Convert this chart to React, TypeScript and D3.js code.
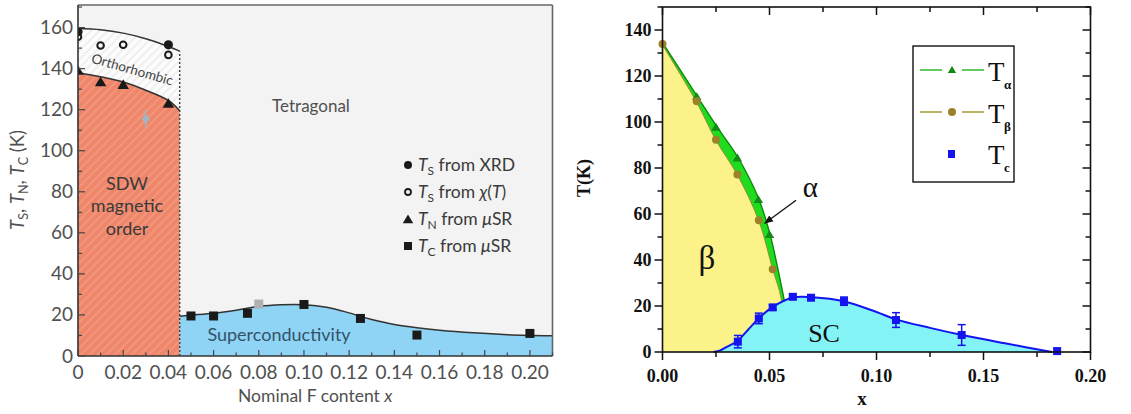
import React from "react";
import * as d3 from "d3";

// ---------- Left panel: phase diagram vs nominal F content ----------
const leftXTicks = [0, 0.02, 0.04, 0.06, 0.08, 0.1, 0.12, 0.14, 0.16, 0.18, 0.2];
const leftXTickLabels = ["0", "0.02", "0.04", "0.06", "0.08", "0.10", "0.12", "0.14", "0.16", "0.18", "0.20"];
const leftYTicks = [0, 20, 40, 60, 80, 100, 120, 140, 160];

// measured transition temperatures
const tsXrdX = [0, 0.04];
const tsXrdY = [158, 151.6];
const tsChiX = [0, 0.01, 0.02, 0.04];
const tsChiY = [155.5, 151.3, 151.6, 146.7];
const tnX = [0, 0.01, 0.02, 0.04];
const tnY = [139, 133.4, 132.1, 122.9];
const tcX = [0.05, 0.06, 0.075, 0.1, 0.125, 0.15, 0.2];
const tcY = [19.5, 19.5, 20.8, 25.1, 18.3, 10.2, 11.0];
const tcGreyX = [0.08];
const tcGreyY = [25.3];
const extraX = [0.03];
const extraY = [115.5];
const extraErr = [4.3];

// guide lines bounding the phases
const tsLineX = [0, 0.01, 0.02, 0.03, 0.04, 0.045];
const tsLineY = [159.5, 158.9, 157.3, 154.6, 150.8, 148.5];
const tnLineX = [0, 0.01, 0.02, 0.03, 0.04, 0.045];
const tnLineY = [138, 136, 133.5, 129.5, 124.5, 119.5];
const scLineX = [0.045, 0.05, 0.06, 0.07, 0.08, 0.09, 0.1, 0.11, 0.12, 0.125, 0.13, 0.14, 0.15, 0.16, 0.175, 0.19, 0.21];
const scLineY = [19.4, 19.9, 20.8, 22.3, 24.2, 25, 25, 23.8, 21, 19.3, 17.8, 15.4, 13.8, 12.6, 11.3, 10.4, 9.9];
const sdwEdge = 0.045;

// ---------- Right panel: T(K) vs x ----------
const rightXTicks = [0, 0.05, 0.1, 0.15, 0.2];
const rightXTickLabels = ["0.00", "0.05", "0.10", "0.15", "0.20"];
const rightYTicks = [0, 20, 40, 60, 80, 100, 120, 140];

const alphaX = [0.016, 0.025, 0.035, 0.0448, 0.05];
const alphaY = [111, 97.7, 84.3, 66.2, 51];
const betaX = [0, 0.016, 0.025, 0.035, 0.045, 0.0515];
const betaY = [133.9, 109, 92.3, 77.2, 57.3, 36];
const scX = [0.0352, 0.045, 0.0515, 0.0609, 0.0694, 0.0848, 0.1091, 0.1398, 0.1844];
const scY = [4.5, 14.6, 19.4, 24, 23.6, 22.1, 13.9, 7.4, 0.4];
const scErr = [2.7, 2.3, 1, 1, 0.8, 1.8, 3.2, 4.5, 0];

// phase boundaries of the alpha band and the SC dome
const alphaEdgeX = [0, 0.016, 0.025, 0.035, 0.0448, 0.05, 0.0535, 0.057];
const alphaEdgeY = [134.5, 111.5, 98.5, 85, 67, 52, 38, 22];
const betaEdgeX = [0, 0.016, 0.025, 0.035, 0.045, 0.0515, 0.0545, 0.0557];
const betaEdgeY = [133.5, 108.5, 92, 77, 57, 36, 27, 22];
const domeX = [0.0238, 0.027, 0.03, 0.035, 0.04, 0.045, 0.0515, 0.061, 0.07, 0.085, 0.1, 0.109, 0.125, 0.14, 0.16, 0.182];
const domeY = [0, 0.7, 2.2, 4.8, 9.7, 14.6, 19.6, 23.7, 23.8, 22, 17.4, 14.2, 10.5, 7.4, 3.8, 0];
const alphaArrowX = [0.0624, 0.0478];
const alphaArrowY = [66, 56];

const zip = (xs: number[], ys: number[]) => xs.map((x, i) => [x, ys[i]] as [number, number]);

export default function App() {
  // scales
  const xL = d3.scaleLinear().domain([0, 0.21]).range([78, 552.5]);
  const yL = d3.scaleLinear().domain([0, 171]).range([356, 5]);
  const xR = d3.scaleLinear().domain([0, 0.2]).range([662.5, 1090.5]);
  const yR = d3.scaleLinear().domain([0, 150]).range([352, 7]);

  const lineL = d3.line<[number, number]>().x((d) => xL(d[0])).y((d) => yL(d[1])).curve(d3.curveCatmullRom);
  const lineR = d3.line<[number, number]>().x((d) => xR(d[0])).y((d) => yR(d[1])).curve(d3.curveCatmullRom);

  const tsPts = zip(tsLineX, tsLineY);
  const tnPts = zip(tnLineX, tnLineY);
  const scPts = zip(scLineX, scLineY);

  const tsPath = lineL(tsPts) as string;
  const tnPath = lineL(tnPts) as string;
  const scPath = lineL(scPts) as string;

  const sdwArea = `M${xL(0)},${yL(0)}L${tnPath.slice(1)}L${xL(sdwEdge)},${yL(0)}Z`;
  const tnRev = lineL([...tnPts].reverse()) as string;
  const orthoArea = `${tsPath}L${tnRev.slice(1)}Z`;
  const scArea = `M${xL(scLineX[0])},${yL(0)}L${scPath.slice(1)}L${xL(0.21)},${yL(0)}Z`;

  const lFont = "Lato, 'Open Sans', sans-serif";
  const lText = "#505050";

  // right panel shapes
  const alphaPts = zip(alphaEdgeX, alphaEdgeY);
  const betaPts = zip(betaEdgeX, betaEdgeY);
  const alphaPath = lineR(alphaPts) as string;
  const betaPath = lineR(betaPts) as string;
  const betaRev = lineR([...betaPts].reverse()) as string;
  const bandArea = `${alphaPath}L${betaRev.slice(1)}Z`;
  const lastB = betaPts[betaPts.length - 1];
  const yellowArea = `M${xR(0)},${yR(0)}L${betaPath.slice(1)}L${xR(lastB[0])},${yR(0)}Z`;
  const domePts = zip(domeX, domeY);
  const domePath = lineR(domePts) as string;
  const cyanArea = `${domePath}Z`;

  const rFont = "'Liberation Serif', 'Times New Roman', serif";

  const leftMinorX = d3.range(0, 0.2101, 0.01);
  const leftMinorY = d3.range(0, 171, 10);
  const rightMinorX = d3.range(0, 0.2001, 0.025);
  const rightMinorY = d3.range(0, 151, 10);

  const tri = (cx: number, cy: number, s: number) =>
    `M${cx},${cy - s}L${cx + s * 1.05},${cy + s * 0.75}L${cx - s * 1.05},${cy + s * 0.75}Z`;

  return (
    <svg width={1131} height={414} style={{ position: "absolute", left: 0, top: 0, background: "#fff" }}>
      <defs>
        <pattern id="hatchSdw" width={6} height={6} patternUnits="userSpaceOnUse" patternTransform="rotate(45)">
          <rect width={6} height={6} fill="#ef866a" />
          <line x1={2} y1={0} x2={2} y2={6} stroke="#f29a80" strokeWidth={1.6} />
        </pattern>
        <pattern id="hatchOrtho" width={6} height={6} patternUnits="userSpaceOnUse" patternTransform="rotate(45)">
          <rect width={6} height={6} fill="#fcfcfc" />
          <line x1={2} y1={0} x2={2} y2={6} stroke="#e2e2e2" strokeWidth={1} />
        </pattern>
        <clipPath id="clipL">
          <rect x={xL(0)} y={yL(171)} width={xL(0.21) - xL(0)} height={yL(0) - yL(171)} />
        </clipPath>
        <marker id="arrowHead" viewBox="0 0 10 10" refX={9} refY={5} markerWidth={7} markerHeight={7} orient="auto">
          <path d="M0,1L10,5L0,9Z" fill="#111" />
        </marker>
      </defs>

      {/* ---------------- left panel ---------------- */}
      <rect x={xL(0)} y={yL(171)} width={xL(0.21) - xL(0)} height={yL(0) - yL(171)} fill="#f3f3f3" />
      <g clipPath="url(#clipL)">
        <path d={sdwArea} fill="url(#hatchSdw)" />
        <path d={orthoArea} fill="url(#hatchOrtho)" />
        <path d={scArea} fill="#8fd4f4" />
        <path d={tsPath} fill="none" stroke="#333" strokeWidth={1.5} />
        <path d={tnPath} fill="none" stroke="#333" strokeWidth={1.5} />
        <path d={scPath} fill="none" stroke="#333" strokeWidth={1.5} />
        <line x1={xL(sdwEdge)} x2={xL(sdwEdge)} y1={yL(0)} y2={yL(148.5)} stroke="#444" strokeWidth={1.5} strokeDasharray="2,2" />

        {/* extra data point with error bar */}
        {extraX.map((x, i) => (
          <g key={`ex${i}`}>
            <line x1={xL(x)} x2={xL(x)} y1={yL(extraY[i] - extraErr[i])} y2={yL(extraY[i] + extraErr[i])} stroke="#9fb5c4" strokeWidth={1.5} />
            <path d={`M${xL(x)},${yL(extraY[i]) - 5}L${xL(x) + 4},${yL(extraY[i])}L${xL(x)},${yL(extraY[i]) + 5}L${xL(x) - 4},${yL(extraY[i])}Z`} fill="#9fb8c8" />
          </g>
        ))}
        {tnX.map((x, i) => (
          <path key={`tn${i}`} d={tri(xL(x), yL(tnY[i]), 5.5)} fill="#1a1a1a" />
        ))}
        {tsChiX.map((x, i) => (
          <circle key={`chi${i}`} cx={xL(x)} cy={yL(tsChiY[i])} r={3.3} fill="none" stroke="#1a1a1a" strokeWidth={2} />
        ))}
        {tsXrdX.map((x, i) => (
          <circle key={`xrd${i}`} cx={xL(x)} cy={yL(tsXrdY[i])} r={4.6} fill="#1a1a1a" />
        ))}
        {tcX.map((x, i) => (
          <rect key={`tc${i}`} x={xL(x) - 4.5} y={yL(tcY[i]) - 4.5} width={9} height={9} fill="#1a1a1a" />
        ))}
        {tcGreyX.map((x, i) => (
          <rect key={`tcg${i}`} x={xL(x) - 4.5} y={yL(tcGreyY[i]) - 4.5} width={9} height={9} fill="#b0b0b0" />
        ))}
      </g>

      {/* left frame */}
      <line x1={xL(0)} x2={xL(0.21)} y1={yL(171)} y2={yL(171)} stroke="#666" strokeWidth={1.6} />
      <line x1={xL(0.21)} x2={xL(0.21)} y1={yL(171)} y2={yL(0)} stroke="#666" strokeWidth={1.6} />
      <line x1={xL(0)} x2={xL(0)} y1={yL(171)} y2={yL(0)} stroke="#333" strokeWidth={1.6} />
      <line x1={xL(0)} x2={xL(0.21)} y1={yL(0)} y2={yL(0)} stroke="#333" strokeWidth={1.6} />
      {leftMinorX.map((t, i) => (
        <line key={`lxt${i}`} x1={xL(t)} x2={xL(t)} y1={yL(0)} y2={yL(0) - (i % 2 === 0 ? 6 : 3.5)} stroke="#444" strokeWidth={1.2} />
      ))}
      {leftMinorY.map((t, i) => (
        <line key={`lyt${i}`} x1={xL(0)} x2={xL(0) + (i % 2 === 0 ? 7 : 4)} y1={yL(t)} y2={yL(t)} stroke="#444" strokeWidth={1.2} />
      ))}
      {leftXTicks.map((t, i) => (
        <text key={`lxl${i}`} x={xL(t)} y={yL(0) + 23} textAnchor="middle" fontFamily={lFont} fontSize={19} fill={lText}>
          {leftXTickLabels[i]}
        </text>
      ))}
      {leftYTicks.map((t) => (
        <text key={`lyl${t}`} x={xL(0) - 5} y={yL(t) + 6.5} textAnchor="end" fontFamily={lFont} fontSize={19} fill={lText}>
          {t}
        </text>
      ))}
      <text x={(xL(0) + xL(0.21)) / 2} y={402} textAnchor="middle" fontFamily={lFont} fontSize={17.5} fill={lText}>
        Nominal F content <tspan fontStyle="italic">x</tspan>
      </text>
      <text transform="translate(24,180) rotate(-90)" textAnchor="middle" fontFamily={lFont} fontSize={18.5} fill={lText}>
        <tspan fontStyle="italic">T</tspan>
        <tspan fontSize={12.5} dy={3.5}>S</tspan>
        <tspan dy={-3.5}>, </tspan>
        <tspan fontStyle="italic">T</tspan>
        <tspan fontSize={12.5} dy={3.5}>N</tspan>
        <tspan dy={-3.5}>, </tspan>
        <tspan fontStyle="italic">T</tspan>
        <tspan fontSize={12.5} dy={3.5}>C</tspan>
        <tspan dy={-3.5}> (K)</tspan>
      </text>

      {/* phase labels */}
      <text x={311} y={112} textAnchor="middle" fontFamily={lFont} fontSize={17} fill={lText}>Tetragonal</text>
      <text transform="translate(131,74) rotate(16)" textAnchor="middle" fontFamily={lFont} fontSize={13.5} fill="#444">Orthorhombic</text>
      <g fontFamily={lFont} fontSize={18} fill="#3a3a3a" textAnchor="middle">
        <text x={127} y={190}>SDW</text>
        <text x={127} y={212}>magnetic</text>
        <text x={127} y={235}>order</text>
      </g>
      <text x={279} y={341} textAnchor="middle" fontFamily={lFont} fontSize={18} fill="#33536b">Superconductivity</text>

      {/* left legend */}
      <g fontFamily={lFont} fontSize={17.5} fill="#3a3a3a">
        <circle cx={408} cy={165} r={4} fill="#1a1a1a" />
        <text x={418} y={171}>
          <tspan fontStyle="italic">T</tspan><tspan fontSize={12} dy={4}>S</tspan><tspan dy={-4}> from XRD</tspan>
        </text>
        <circle cx={408} cy={192} r={3} fill="none" stroke="#1a1a1a" strokeWidth={1.8} />
        <text x={418} y={198}>
          <tspan fontStyle="italic">T</tspan><tspan fontSize={12} dy={4}>S</tspan><tspan dy={-4}> from </tspan><tspan fontStyle="italic">χ</tspan><tspan>(</tspan><tspan fontStyle="italic">T</tspan><tspan>)</tspan>
        </text>
        <path d={tri(408, 219.5, 5)} fill="#1a1a1a" />
        <text x={418} y={225}>
          <tspan fontStyle="italic">T</tspan><tspan fontSize={12} dy={4}>N</tspan><tspan dy={-4}> from </tspan><tspan fontStyle="italic">μ</tspan><tspan>SR</tspan>
        </text>
        <rect x={404} y={242} width={8} height={8} fill="#1a1a1a" />
        <text x={418} y={252}>
          <tspan fontStyle="italic">T</tspan><tspan fontSize={12} dy={4}>C</tspan><tspan dy={-4}> from </tspan><tspan fontStyle="italic">μ</tspan><tspan>SR</tspan>
        </text>
      </g>

      {/* ---------------- right panel ---------------- */}
      <path d={yellowArea} fill="#fbf389" />
      <path d={cyanArea} fill="#84f3f5" />
      <path d={bandArea} fill="#1fdc1f" />
      <path d={alphaPath} fill="none" stroke="#0a8a0a" strokeWidth={1.4} />
      <path d={betaPath} fill="none" stroke="#9a8a30" strokeWidth={1} />
      <path d={domePath} fill="none" stroke="#1414f0" strokeWidth={2} />

      {alphaX.map((x, i) => (
        <path key={`a${i}`} d={tri(xR(x), yR(alphaY[i]), 4.5)} fill="#168a16" />
      ))}
      {betaX.map((x, i) => (
        <circle key={`b${i}`} cx={xR(x)} cy={yR(betaY[i])} r={4} fill="#9c822a" />
      ))}
      {scX.map((x, i) => (
        <g key={`sc${i}`} stroke="#1414f0" strokeWidth={1.5}>
          {scErr[i] > 0 && (
            <>
              <line x1={xR(x)} x2={xR(x)} y1={yR(scY[i] - scErr[i])} y2={yR(scY[i] + scErr[i])} />
              <line x1={xR(x) - 4} x2={xR(x) + 4} y1={yR(scY[i] - scErr[i])} y2={yR(scY[i] - scErr[i])} />
              <line x1={xR(x) - 4} x2={xR(x) + 4} y1={yR(scY[i] + scErr[i])} y2={yR(scY[i] + scErr[i])} />
            </>
          )}
          <rect x={xR(x) - 4} y={yR(scY[i]) - 4} width={8} height={8} fill="#1414f0" stroke="none" />
        </g>
      ))}

      {/* annotations */}
      <line x1={xR(alphaArrowX[0])} y1={yR(alphaArrowY[0])} x2={xR(alphaArrowX[1])} y2={yR(alphaArrowY[1])} stroke="#111" strokeWidth={1.3} markerEnd="url(#arrowHead)" />
      <text x={xR(0.0655)} y={yR(67.5)} fontFamily={rFont} fontSize={29} fill="#111">α</text>
      <text x={xR(0.0207)} y={yR(36)} textAnchor="middle" fontFamily={rFont} fontSize={33} fill="#111">β</text>
      <text x={xR(0.0755)} y={yR(4.5)} textAnchor="middle" fontFamily={rFont} fontSize={26} fill="#111">SC</text>

      {/* right frame and ticks */}
      <rect x={xR(0)} y={yR(150)} width={xR(0.2) - xR(0)} height={yR(0) - yR(150)} fill="none" stroke="#111" strokeWidth={1.6} />
      {rightMinorX.map((t, i) => (
        <g key={`rxt${i}`} stroke="#111" strokeWidth={1.5}>
          <line x1={xR(t)} x2={xR(t)} y1={yR(0)} y2={yR(0) + (i % 2 === 0 ? 8 : 5)} />
          <line x1={xR(t)} x2={xR(t)} y1={yR(150)} y2={yR(150) + (i % 2 === 0 ? 8 : 5)} />
        </g>
      ))}
      {rightMinorY.map((t, i) => (
        <g key={`ryt${i}`} stroke="#111" strokeWidth={1.5}>
          <line x1={xR(0)} x2={xR(0) - (i % 2 === 0 ? 8 : 5)} y1={yR(t)} y2={yR(t)} />
          <line x1={xR(0.2)} x2={xR(0.2) - (i % 2 === 0 ? 8 : 5)} y1={yR(t)} y2={yR(t)} />
        </g>
      ))}
      {rightXTicks.map((t, i) => (
        <text key={`rxl${i}`} x={xR(t)} y={yR(0) + 30} textAnchor="middle" fontFamily={rFont} fontWeight="bold" fontSize={18} fill="#111">
          {rightXTickLabels[i]}
        </text>
      ))}
      {rightYTicks.map((t) => (
        <text key={`ryl${t}`} x={xR(0) - 11} y={yR(t) + 6} textAnchor="end" fontFamily={rFont} fontWeight="bold" fontSize={18} fill="#111">
          {t}
        </text>
      ))}
      <text x={862} y={405} textAnchor="middle" fontFamily={rFont} fontWeight="bold" fontSize={19} fill="#111">x</text>
      <text transform="translate(590,178) rotate(-90)" textAnchor="middle" fontFamily={rFont} fontWeight="bold" fontSize={18} fill="#111">T(K)</text>

      {/* right legend */}
      <rect x={913} y={46} width={101} height={136} fill="#fff" stroke="#111" strokeWidth={1.4} />
      <g fontFamily={rFont} fill="#111">
        <line x1={920} x2={942} y1={70} y2={70} stroke="#3cbf3c" strokeWidth={1.6} />
        <line x1={962} x2={984} y1={70} y2={70} stroke="#3cbf3c" strokeWidth={1.6} />
        <path d={tri(952, 70, 4)} fill="#168a16" />
        <text x={988} y={81} fontSize={27}>T</text>
        <text x={1004} y={89} fontSize={13} fontWeight="bold">α</text>

        <line x1={920} x2={942} y1={112} y2={112} stroke="#a8a040" strokeWidth={1.6} />
        <line x1={962} x2={984} y1={112} y2={112} stroke="#a8a040" strokeWidth={1.6} />
        <circle cx={952} cy={112} r={4} fill="#9c822a" />
        <text x={988} y={123} fontSize={27}>T</text>
        <text x={1004} y={131} fontSize={13} fontWeight="bold">β</text>

        <rect x={948} y={150} width={7} height={8} fill="#1414f0" />
        <text x={988} y={164} fontSize={27}>T</text>
        <text x={1004} y={172} fontSize={13} fontWeight="bold">c</text>
      </g>
    </svg>
  );
}
